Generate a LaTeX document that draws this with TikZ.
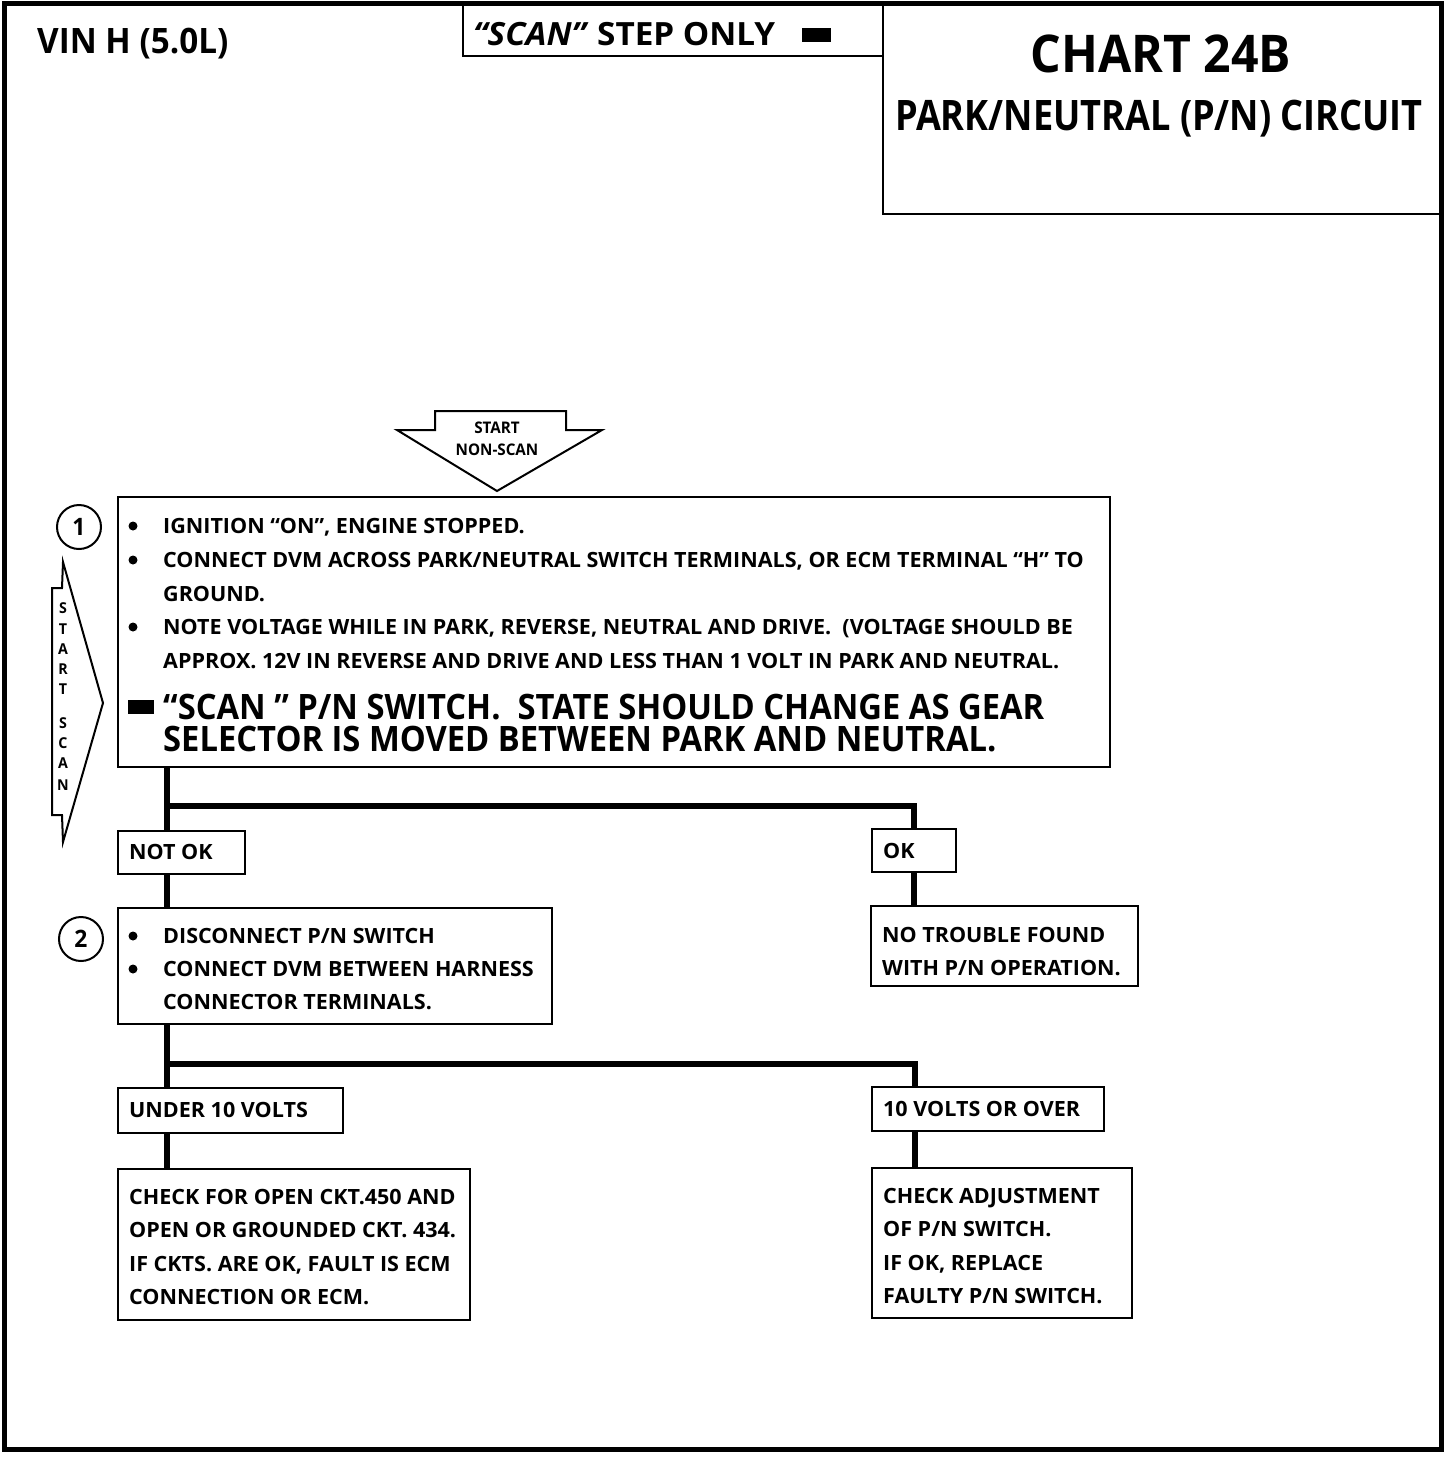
\documentclass[tikz,border=0pt]{standalone}
\usepackage{fontspec}
\setmainfont{Open Sans}
\newfontfamily\bodyf{Open Sans}[FakeStretch=1.025]
\newfontfamily\smallf{Open Sans}[FakeStretch=0.95]
\newfontfamily\bigf{Open Sans}[FakeStretch=0.935]
\newfontfamily\titlef{Open Sans}[FakeStretch=0.927]
\newfontfamily\subf{Open Sans}[FakeStretch=0.86]
\newfontfamily\vinf{Open Sans}[FakeStretch=0.95]
\newfontfamily\stepf{Open Sans}[FakeStretch=1.04]
\begin{document}
\begin{tikzpicture}[x=1pt,y=-1pt,
  box/.style={draw, line width=2.2pt, anchor=north west, inner sep=0pt},
  conn/.style={line width=6pt, line join=miter},
  txt/.style={anchor=base west, inner sep=0pt, font=\bodyf\bfseries\fontsize{21}{24}\selectfont},
  bigtxt/.style={anchor=base west, inner sep=0pt, font=\bigf\bfseries\fontsize{35}{40}\selectfont},
  small/.style={anchor=base, inner sep=0pt, font=\smallf\bfseries\fontsize{16}{18}\selectfont},
  vlet/.style={anchor=base, inner sep=0pt, font=\smallf\bfseries\fontsize{15}{18}\selectfont},
  num/.style={draw, circle, line width=2pt, minimum size=44pt, inner sep=0pt, font=\smallf\bfseries\fontsize{24}{28}\selectfont},
  bul/.style={fill, circle, inner sep=0pt, minimum size=9pt}
]
\useasboundingbox (0,0) rectangle (1456,1476);
% outer frame
\draw[line width=5pt] (4,3) rectangle (1441,1449);
% header
\node[font=\vinf\bfseries\fontsize{35}{40}\selectfont, anchor=base west, inner sep=0pt] (vin) at (37,53) {VIN H (5.0L)};
\node[box, minimum width=420pt, minimum height=52pt] (scanbox) at (462,3) {};
\node[anchor=base west, inner sep=0pt, font=\stepf\bfseries\fontsize{32}{36}\selectfont] (scanonly) at (473,45) {\textit{“SCAN”} STEP ONLY};
\node[fill, inner sep=0pt, minimum width=29pt, minimum height=14pt, anchor=north west] (scanmark) at (802,28) {};
\node[box, minimum width=559pt, minimum height=210pt] (titlebox) at (882,3) {};
\node[anchor=base, inner sep=0pt, font=\titlef\bfseries\fontsize{52}{56}\selectfont] (chart) at (1161,72) {CHART 24B};
\node[anchor=base, inner sep=0pt, font=\subf\bfseries\fontsize{42}{46}\selectfont] (sub) at (1159,130) {PARK/NEUTRAL (P/N) CIRCUIT};
% start non-scan arrow
\draw[line width=2pt, line join=miter] (435,411) -- (566,411) -- (566,430) -- (602,430) -- (497,491) -- (397,430) -- (435,430) -- cycle;
\node[small] (st1) at (497,433) {START};
\node[small] (st2) at (497,455) {NON-SCAN};
% start scan pennant
\draw[line width=2pt, line join=miter] (52,588) -- (62,588) -- (63,562) -- (103,703) -- (63,842) -- (62,815) -- (52,815) -- cycle;
\node[vlet] (sl1) at (63,613) {S};
\node[vlet] (sl2) at (63,634) {T};
\node[vlet] (sl3) at (63,654) {A};
\node[vlet] (sl4) at (63,674) {R};
\node[vlet] (sl5) at (63,694) {T};
\node[vlet] (sl6) at (63,728) {S};
\node[vlet] (sl7) at (63,748) {C};
\node[vlet] (sl8) at (63,768) {A};
\node[vlet] (sl9) at (63,790) {N};
% numbered circles
\node[num] (n1) at (79,527) {1};
\node[num] (n2) at (81,939) {2};
% box 1
\node[box, minimum width=992pt, minimum height=270pt] (b1) at (117,496) {};
\node[bul] (u1) at (133,526) {};
\node[txt] (l11) at (163,533) {IGNITION “ON”, ENGINE STOPPED.};
\node[bul] (u2) at (133,560) {};
\node[txt] (l12) at (163,567) {CONNECT DVM ACROSS PARK/NEUTRAL SWITCH TERMINALS, OR ECM TERMINAL “H” TO};
\node[txt] (l13) at (163,601) {GROUND.};
\node[bul] (u3) at (133,627) {};
\node[txt] (l14) at (163,634) {NOTE VOLTAGE WHILE IN PARK, REVERSE, NEUTRAL AND DRIVE.\ \ (VOLTAGE SHOULD BE};
\node[txt] (l15) at (163,668) {APPROX. 12V IN REVERSE AND DRIVE AND LESS THAN 1 VOLT IN PARK AND NEUTRAL.};
\node[fill, inner sep=0pt, minimum width=26pt, minimum height=14pt, anchor=north west] (sq) at (128,700) {};
\node[bigtxt] (l16) at (163,719) {“SCAN ” P/N SWITCH.\ \ STATE SHOULD CHANGE AS GEAR};
\node[bigtxt] (l17) at (163,751) {SELECTOR IS MOVED BETWEEN PARK AND NEUTRAL.};
% first branch
\node[box, minimum width=127pt, minimum height=43pt] (notok) at (117,830) {};
\node[txt] (tnotok) at (129,859) {NOT OK};
\node[box, minimum width=84pt, minimum height=43pt] (ok) at (871,828) {};
\node[txt] (tok) at (883,858) {OK};
\coordinate (c1) at (167,806);
\draw[conn] (b1.south -| c1) -- (c1) -| (ok.north);
\draw[conn] (c1) -- (notok.north -| c1);
% box 2
\node[box, minimum width=434pt, minimum height=116pt] (b2) at (117,907) {};
\node[bul] (u4) at (133,936) {};
\node[txt] (l21) at (163,943) {DISCONNECT P/N SWITCH};
\node[bul] (u5) at (133,969) {};
\node[txt] (l22) at (163,976) {CONNECT DVM BETWEEN HARNESS};
\node[txt] (l23) at (163,1009) {CONNECTOR TERMINALS.};
\node[box, minimum width=267pt, minimum height=80pt] (ntf) at (870,905) {};
\node[txt] (l31) at (882,942) {NO TROUBLE FOUND};
\node[txt] (l32) at (882,975) {WITH P/N OPERATION.};
\draw[conn] (notok.south -| c1) -- (b2.north -| c1);
\draw[conn] (ok.south) -- (ok.south |- ntf.north);
% second branch
\node[box, minimum width=225pt, minimum height=45pt] (under) at (117,1087) {};
\node[txt] (tunder) at (129,1117) {UNDER 10 VOLTS};
\node[box, minimum width=232pt, minimum height=44pt] (over) at (871,1086) {};
\node[txt] (tover) at (883,1116) {10 VOLTS OR OVER};
\coordinate (c2) at (167,1064);
\coordinate (c3) at (915,1064);
\draw[conn] (b2.south -| c2) -- (c2) -- (c3) -- (c3 |- over.north);
\draw[conn] (c2) -- (c2 |- under.north);
% results
\node[box, minimum width=352pt, minimum height=151pt] (r1) at (117,1168) {};
\node[txt] (r11) at (129,1204) {CHECK FOR OPEN CKT.450 AND};
\node[txt] (r12) at (129,1237) {OPEN OR GROUNDED CKT. 434.};
\node[txt] (r13) at (129,1271) {IF CKTS. ARE OK, FAULT IS ECM};
\node[txt] (r14) at (129,1304) {CONNECTION OR ECM.};
\node[box, minimum width=260pt, minimum height=150pt] (r2) at (871,1167) {};
\node[txt] (r21) at (883,1203) {CHECK ADJUSTMENT};
\node[txt] (r22) at (883,1236) {OF P/N SWITCH.};
\node[txt] (r23) at (883,1270) {IF OK, REPLACE};
\node[txt] (r24) at (883,1303) {FAULTY P/N SWITCH.};
\draw[conn] (under.south -| c2) -- (c2 |- r1.north);
\draw[conn] (over.south -| c3) -- (c3 |- r2.north);
\end{tikzpicture}
\end{document}
